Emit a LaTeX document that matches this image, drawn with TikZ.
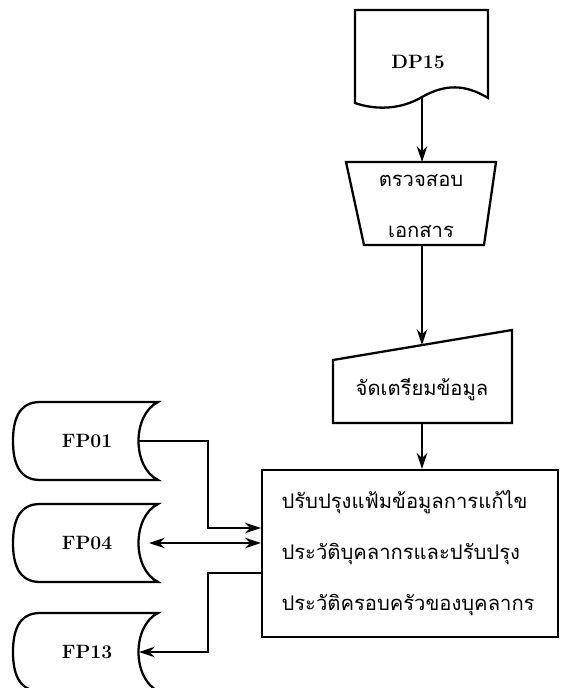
\documentclass[tikz,border=0pt]{standalone}
\usepackage{fontspec}
\newfontfamily\thaifont[Script=Thai]{Loma}
\usetikzlibrary{arrows.meta, positioning, calc}

\begin{document}
\begin{tikzpicture}[x=0.02cm, y=-0.02cm, line width=1.3pt,
    thai/.style={font=\thaifont\fontsize{11.5}{29}\selectfont},
    code/.style={font=\bfseries\fontsize{11}{13}\selectfont},
    flow/.style={-{Stealth[length=9pt,width=6pt]}}]
  \useasboundingbox (0,0) rectangle (566,688);
  % source document
  \draw (355,10) -- (488,10) -- (488,98) .. controls (465,84) and (445,84) .. (422,97)
    .. controls (400,110) and (375,110) .. (355,103) -- cycle;
  \coordinate (docout) at (422,97);
  \node[code] (doc) at (418,62) {DP15};
  % check documents
  \draw (346,162) -- (496,162) -- (484,245) -- (364,245) -- cycle;
  \coordinate (chkin) at (422,162);
  \coordinate (chkout) at (422,245);
  \node[thai, align=center] (chk) at (421,206) {ตรวจสอบ\\เอกสาร};
  % prepare data
  \draw (333,360) -- (512,330) -- (512,423) -- (333,423) -- cycle;
  \coordinate (prepin) at (422,345.1);
  \coordinate (prepout) at (422,423);
  \node[thai] (prep) at (422,390) {จัดเตรียมข้อมูล};
  % update process
  \node[draw, thai, align=left, text width=5.14cm, inner xsep=0.39cm,
    minimum height=3.34cm] (upd) at (410,553.5)
    {ปรับปรุงแฟ้มข้อมูลการแก้ไข\\ประวัติบุคลากรและปรับปรุง\\ประวัติครอบครัวของบุคลากร};
  % master files
  \foreach \nm/\y in {FP01/441, FP04/543, FP13/652} {
    \draw (158,\y-39) -- (40,\y-39) .. controls (18,\y-39) and (13,\y-20) .. (13,\y)
      .. controls (13,\y+20) and (18,\y+39) .. (40,\y+39) -- (158,\y+39)
      .. controls (132,\y+26) and (132,\y-26) .. cycle;
    \coordinate (\nm-in) at (139,\y);
    \node[code] (\nm) at (87,\y) {\nm};
  }
  \coordinate (j1) at (208,528);
  \coordinate (j2) at (208,573);
  % connectors
  \draw[flow] (docout) -- (chkin);
  \draw[flow] (chkout) -- (prepin);
  \draw[flow] (prepout) -- (prepout |- upd.north);
  \draw[flow] (FP01-in) -| (j1) -- (j1 -| upd.west);
  \draw[{Stealth[length=9pt,width=6pt]}-{Stealth[length=9pt,width=6pt]},
    shorten <=0.2cm] (FP04-in) -- (FP04-in -| upd.west);
  \draw[flow] (j2 -| upd.west) -- (j2) |- (FP13-in);
\end{tikzpicture}
\end{document}
